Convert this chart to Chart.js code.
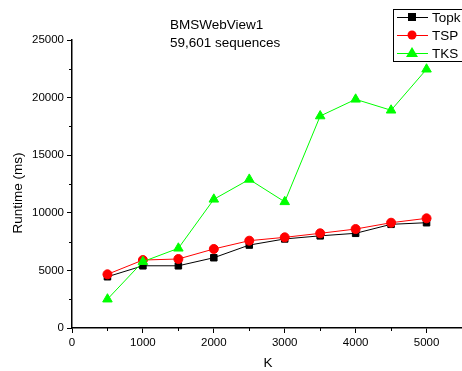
<!DOCTYPE html>
<html lang="en">
<head>
  <meta charset="UTF-8" />
  <title>BMSWebView1 runtime</title>
  <script src="https://cdn.jsdelivr.net/npm/chart.js"></script>
  <style>
    body { margin: 0; background: #fff; }
    #wrap { width: 462px; height: 371px; }
  </style>
</head>
<body>
  <div id="wrap"><canvas id="runtimeChart" width="462" height="371"></canvas></div>

  <script>
    const kValues = [500, 1000, 1500, 2000, 2500, 3000, 3500, 4000, 4500, 5000];
    const topkRuntime = [4450, 5400, 5400, 6100, 7200, 7730, 8000, 8220, 9000, 9140];
    const tspRuntime = [4660, 5900, 5990, 6860, 7580, 7870, 8220, 8590, 9140, 9520];
    const tksRuntime = [2500, 5760, 6920, 11170, 12900, 10950, 18400, 19850, 18900, 22460];
    const xTickLabels = ['0', '1000', '2000', '3000', '4000', '5000'];
    const titleLines = ['BMSWebView1', '59,601 sequences'];

    const font = '"Liberation Sans", Arial, sans-serif';

    const toPoints = arr => arr.map((v, i) => ({ x: kValues[i], y: v }));

    // text, legend box and minor ticks
    const decorations = {
      id: 'decorations',
      afterDraw(chart) {
        const ctx = chart.ctx;
        const xs = chart.scales.x, ys = chart.scales.y;
        ctx.save();
        ctx.strokeStyle = '#000';
        ctx.lineWidth = 1;
        // minor ticks
        for (let v = 500; v <= 5500; v += 1000) {
          const px = Math.round(xs.getPixelForValue(v)) + 0.5;
          ctx.beginPath(); ctx.moveTo(px, ys.bottom); ctx.lineTo(px, ys.bottom + 3); ctx.stroke();
        }
        for (let v = 2500; v <= 25000; v += 5000) {
          const py = Math.round(ys.getPixelForValue(v)) + 0.5;
          ctx.beginPath(); ctx.moveTo(xs.left, py); ctx.lineTo(xs.left - 3, py); ctx.stroke();
        }

        ctx.fillStyle = '#000';
        ctx.font = '13.5px ' + font;
        ctx.textBaseline = 'middle';
        ctx.textAlign = 'left';
        ctx.fillText(titleLines[0], 170, 25);
        ctx.fillText(titleLines[1], 170, 43);

        ctx.textAlign = 'center';
        ctx.fillText('K', 268, 363);
        ctx.translate(18, 193);
        ctx.rotate(-Math.PI / 2);
        ctx.fillText('Runtime (ms)', 0, 0);
        ctx.restore();

        // legend
        ctx.save();
        ctx.fillStyle = '#fff';
        ctx.fillRect(393, 9, 80, 53);
        ctx.strokeStyle = '#000';
        ctx.lineWidth = 1;
        ctx.strokeRect(393.5, 9.5, 80, 52);
        const rows = [17, 35, 53];
        [0, 1, 2].forEach(i => {
          const ds = chart.data.datasets[i];
          const y = rows[i];
          ctx.strokeStyle = ds.borderColor;
          ctx.beginPath(); ctx.moveTo(397, y + 0.5); ctx.lineTo(428, y + 0.5); ctx.stroke();
          ctx.fillStyle = ds.pointBackgroundColor;
          ctx.beginPath();
          if (ds.pointStyle === 'rect') ctx.rect(412 - 4, y - 4, 8, 8);
          else if (ds.pointStyle === 'circle') ctx.arc(412, y, 4.5, 0, Math.PI * 2);
          else { ctx.moveTo(412, y - 6); ctx.lineTo(418, y + 4); ctx.lineTo(406, y + 4); ctx.closePath(); }
          ctx.fill();
          ctx.fillStyle = '#000';
          ctx.font = '13.5px ' + font;
          ctx.textBaseline = 'middle';
          ctx.textAlign = 'left';
          ctx.fillText(ds.label, 432, y + 1);
        });
        ctx.restore();
      }
    };

    new Chart(document.getElementById('runtimeChart'), {
      type: 'line',
      data: {
        datasets: [
          { label: 'Topk', data: toPoints(topkRuntime), borderColor: '#000', backgroundColor: '#000',
            pointBackgroundColor: '#000', pointBorderColor: '#000', pointStyle: 'rect', pointRadius: 4.6, borderWidth: 1, order: 3 },
          { label: 'TSP', data: toPoints(tspRuntime), borderColor: '#ff0000', backgroundColor: '#ff0000',
            pointBackgroundColor: '#ff0000', pointBorderColor: '#ff0000', pointStyle: 'circle', pointRadius: 4.5, borderWidth: 1, order: 2 },
          { label: 'TKS', data: toPoints(tksRuntime), borderColor: '#00ff00', backgroundColor: '#00ff00',
            pointBackgroundColor: '#00ff00', pointBorderColor: '#00ff00', pointStyle: 'triangle', pointRadius: 5.5, borderWidth: 1, order: 1 }
        ]
      },
      options: {
        responsive: false,
        animation: false,
        layout: { autoPadding: false, padding: { top: 40, right: 0, left: 0, bottom: 0 } },
        plugins: { legend: { display: false }, tooltip: { enabled: false } },
        elements: { line: { tension: 0 }, point: { borderWidth: 0 } },
        scales: {
          x: {
            type: 'linear', min: 0, max: 5500,
            afterFit: s => { s.height = 43; s.paddingRight = 0; s.paddingLeft = 0; },
            afterBuildTicks: s => { s.ticks = xTickLabels.map(t => ({ value: Number(t) })); },
            border: { color: '#000', width: 1.5 },
            grid: { drawOnChartArea: false, tickLength: 5, tickColor: '#000' },
            ticks: { autoSkip: false, maxRotation: 0, color: '#000', font: { family: font, size: 11.5 }, padding: 3,
              callback: v => String(v) }
          },
          y: {
            min: 0, max: 25000,
            afterFit: s => { s.width = 72; },
            border: { color: '#000', width: 1.5 },
            grid: { drawOnChartArea: false, tickLength: 5, tickColor: '#000' },
            ticks: { stepSize: 5000, color: '#000', font: { family: font, size: 11.5 }, padding: 3,
              callback: v => String(v) }
          }
        }
      },
      plugins: [decorations]
    });
  </script>
</body>
</html>
